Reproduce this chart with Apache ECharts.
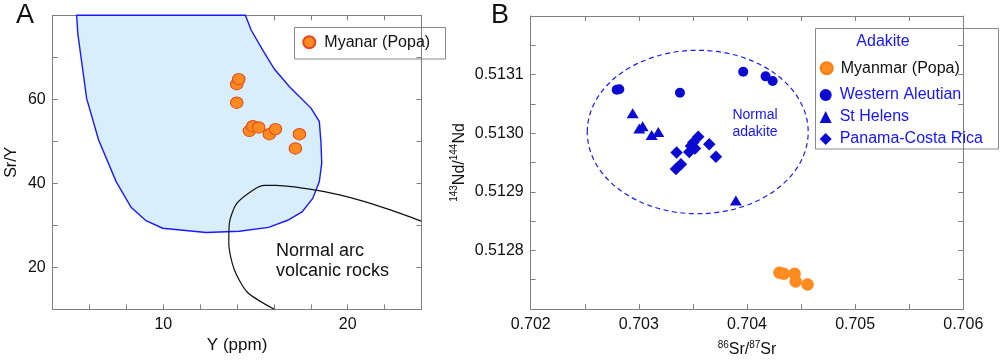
<!DOCTYPE html>
<html>
<head>
<meta charset="utf-8">
<script src="https://cdn.jsdelivr.net/npm/echarts@6/dist/echarts.min.js"></script>
<style>
html,body{margin:0;padding:0;background:#fff;}
#chart{width:1000px;height:363px;}
</style>
</head>
<body>
<div id="chart"></div>
<script>
// ---------- Panel A data (Y ppm vs Sr/Y) ----------
const adakiteOutline = [[5.30,80],[14.45,80],[14.76,76.5],[15.39,71.7],[16.02,67.2],[16.84,63.0],[18.01,57.9],[18.46,54.7],[18.55,49.5],[18.59,44.8],[18.46,40.4],[18.10,36.4],[17.52,33.2],[16.74,31.2],[15.71,29.5],[14.12,28.6],[12.32,28.3],[9.96,29.3],[9.06,31.1],[8.25,34.3],[7.44,40.4],[6.49,50.3],[5.84,60.2],[5.36,75.7]];
const normalArcCurve = [[16.02,10],[14.57,14.0],[13.85,19.4],[13.55,25.7],[13.58,30.5],[13.98,35.2],[14.94,38.6],[15.48,39.5],[16.11,39.5],[18.73,38.0],[20.63,36.0],[22.35,33.6],[23.98,31.0]];
const myanarA = [[13.98,63.6],[14.09,64.8],[13.98,59.2],[14.67,52.5],[14.85,53.6],[15.17,53.3],[15.75,51.7],[16.08,52.9],[17.38,51.7],[17.16,48.3]];
const axisAX = {min:4, max:24, interval:2, labels:[10,20]};
const axisAY = {min:10, max:80, interval:10, labels:[20,40,60]};

// ---------- Panel B data (87Sr/86Sr vs 143Nd/144Nd) ----------
const myanmarB = [[0.70430,0.512762],[0.70434,0.512760],[0.70444,0.512760],[0.70445,0.512747],[0.70456,0.512742]];
const westernAleutian = [[0.702795,0.513074],[0.702819,0.513075],[0.70338,0.513069],[0.703965,0.513105],[0.704172,0.513097],[0.704237,0.513089]];
const stHelens = [[0.702943,0.513034],[0.703004,0.513008],[0.703035,0.513012],[0.703118,0.512997],[0.703180,0.513002],[0.703897,0.512885]];
const panamaCostaRica = [[0.703349,0.512967],[0.703343,0.512939],[0.703389,0.512947],[0.703466,0.512968],[0.703482,0.512978],[0.703519,0.512974],[0.703549,0.512994],[0.703503,0.512984],[0.703651,0.512981],[0.703713,0.512960]];
const normalAdakiteCenter = [0.7035444, 0.5130020];
const normalAdakiteRadii = [0.0010213, 0.00013947];
const axisBX = {min:0.702, max:0.706, interval:0.0005, labels:[0.702,0.703,0.704,0.705,0.706]};
const axisBY = {min:0.5127, max:0.5132, interval:0.00005, labels:[0.5128,0.5129,0.5130,0.5131]};

const FONT = '"Liberation Sans", Arial, Helvetica, sans-serif';
const BLUE_TXT = '#1414ff';
const BLUE_MK = '#0a0ad2';
const AX_COL = '#808080';

function near(v, list, eps){ return list.some(l => Math.abs(l - v) < eps); }

function makeAxis(cfg, opts){
  return Object.assign({
    type:'value', min:cfg.min, max:cfg.max, interval:cfg.interval,
    splitLine:{show:false},
    axisLine:{show:true, onZero:false, lineStyle:{color:AX_COL, width:1}},
    axisTick:{show:true, inside:true, length:5, lineStyle:{color:AX_COL}},
    axisLabel:{show:false}
  }, opts);
}

const chart = echarts.init(document.getElementById('chart'), null, {renderer:'canvas'});

const option = {
  backgroundColor:'#fff',
  animation:false,
  textStyle:{fontFamily:FONT},
  grid:[
    {left:52.7, top:15.3, width:368.8, height:294, containLabel:false},
    {left:530.7, top:16, width:432.6, height:294.5, containLabel:false}
  ],
  xAxis:[
    makeAxis(axisAX, {gridIndex:0, position:'bottom',
      name:'Y (ppm)', nameLocation:'middle', nameGap:19,
      nameTextStyle:{fontSize:17, color:'#111', fontFamily:FONT},
      axisLabel:{show:true, fontSize:16, color:'#111', margin:7, fontFamily:FONT,
        formatter:v => near(v, axisAX.labels, 1e-6) ? String(v) : ''}}),
    makeAxis(axisAX, {gridIndex:0, position:'top'}),
    makeAxis(axisBX, {gridIndex:1, position:'bottom',
      name:'{sup|86}{n|Sr/}{sup|87}{n|Sr}', nameLocation:'middle', nameGap:31,
      nameTextStyle:{fontSize:16, color:'#111', fontFamily:FONT,
        rich:{n:{fontSize:16, lineHeight:20, color:'#111', fontFamily:FONT},
              sup:{fontSize:10, lineHeight:10, verticalAlign:'top', color:'#111', fontFamily:FONT}}},
      axisLabel:{show:true, fontSize:16, color:'#111', margin:8, fontFamily:FONT,
        formatter:v => near(v, axisBX.labels, 1e-7) ? v.toFixed(3) : ''}}),
    makeAxis(axisBX, {gridIndex:1, position:'top'})
  ],
  yAxis:[
    makeAxis(axisAY, {gridIndex:0, position:'left',
      name:'Sr/Y', nameLocation:'middle', nameGap:33,
      nameTextStyle:{fontSize:16, color:'#111', fontFamily:FONT},
      axisLabel:{show:true, fontSize:16, color:'#111', margin:7, fontFamily:FONT,
        formatter:v => near(v, axisAY.labels, 1e-6) ? String(v) : ''}}),
    makeAxis(axisAY, {gridIndex:0, position:'right'}),
    makeAxis(axisBY, {gridIndex:1, position:'left',
      name:'{sup|143}{n|Nd/}{sup|144}{n|Nd}', nameLocation:'middle', nameGap:61,
      nameTextStyle:{fontSize:16, color:'#111', fontFamily:FONT,
        rich:{n:{fontSize:16, lineHeight:20, color:'#111', fontFamily:FONT},
              sup:{fontSize:10, lineHeight:10, verticalAlign:'top', color:'#111', fontFamily:FONT}}},
      axisLabel:{show:true, fontSize:16, color:'#111', margin:7, fontFamily:FONT,
        formatter:v => near(v, axisBY.labels, 1e-8) ? v.toFixed(4) : ''}}),
    makeAxis(axisBY, {gridIndex:1, position:'right'})
  ],
  legend:[
    {data:['Myanar (Popa)'], left:302.3, top:34.3, padding:0, itemWidth:12, itemHeight:12,
      selectedMode:false, textStyle:{fontSize:16, color:'#111', fontFamily:FONT, padding:[0,0,0,4]}},
    {data:['Myanmar (Popa)'], left:819.7, top:60.3, padding:0, itemWidth:12, itemHeight:12,
      selectedMode:false, textStyle:{fontSize:16, color:'#111', fontFamily:FONT, padding:[0,0,0,3]}},
    {data:[{name:'Western Aleutian'},{name:'St Helens'},{name:'Panama-Costa Rica'}],
      orient:'vertical', left:819.7, top:87, padding:0, itemGap:6, itemWidth:12, itemHeight:12,
      selectedMode:false, textStyle:{fontSize:16, color:BLUE_TXT, fontFamily:FONT, padding:[0,0,0,3]}}
  ],
  graphic:[
    {type:'text', left:16, top:2, style:{text:'A', fill:'#111', font:'27px '+FONT}},
    {type:'text', left:491, top:2, style:{text:'B', fill:'#111', font:'27px '+FONT}},
    {type:'text', left:118, top:87, style:{text:'Adakite', fill:BLUE_TXT, font:'18px '+FONT}},
    {type:'text', left:276, top:242, style:{text:'Normal arc', fill:'#111', font:'18px '+FONT}},
    {type:'text', left:276, top:262, style:{text:'volcanic rocks', fill:'#111', font:'18px '+FONT}},
    {type:'text', x:755, y:115, style:{text:'Normal', fill:BLUE_TXT, font:'14px '+FONT, textAlign:'center', textVerticalAlign:'middle'}},
    {type:'text', x:755, y:132.5, style:{text:'adakite', fill:BLUE_TXT, font:'14px '+FONT, textAlign:'center', textVerticalAlign:'middle'}},
    {type:'rect', shape:{x:294.5, y:27.5, width:151, height:31.5}, style:{fill:'none', stroke:'#8a8a8a', lineWidth:1}, z:-1},
    {type:'rect', shape:{x:815.5, y:28.5, width:183, height:120.5}, style:{fill:'none', stroke:'#8a8a8a', lineWidth:1}, z:-1},
    {type:'text', x:883, y:42, style:{text:'Adakite', fill:BLUE_TXT, font:'16px '+FONT, textAlign:'center', textVerticalAlign:'middle'}}
  ],
  series:[
    {type:'custom', name:'adakite field', coordinateSystem:'cartesian2d', xAxisIndex:0, yAxisIndex:0, data:[0], z:1, silent:true,
      renderItem:(params, api) => ({
        type:'polygon',
        shape:{points: adakiteOutline.map(p => api.coord(p))},
        style:{fill:'#d9eefb', stroke:'#1a1aff', lineWidth:1.4}
      })},
    {type:'line', name:'normal arc', xAxisIndex:0, yAxisIndex:0, data:normalArcCurve, z:2,
      symbol:'none', smooth:0.25, lineStyle:{color:'#111', width:1.2}, silent:true},
    {type:'scatter', name:'Myanar (Popa)', xAxisIndex:0, yAxisIndex:0, data:myanarA, z:3,
      symbol:'circle', symbolSize:[12.5,11.5],
      itemStyle:{color:'#ff8a22', borderColor:'#e2481a', borderWidth:1, opacity:1}},
    {type:'custom', name:'normal adakite', coordinateSystem:'cartesian2d', xAxisIndex:2, yAxisIndex:2, data:[0], z:1, silent:true,
      renderItem:(params, api) => {
        const c = api.coord(normalAdakiteCenter);
        const s = api.size(normalAdakiteRadii, normalAdakiteCenter);
        return {type:'ellipse', shape:{cx:c[0], cy:c[1], rx:s[0], ry:s[1]},
          style:{fill:'none', stroke:'#1a1aff', lineWidth:1.2, lineDash:[5,3.5]}};
      }},
    {type:'scatter', name:'Myanmar (Popa)', xAxisIndex:2, yAxisIndex:2, data:myanmarB, z:3,
      symbol:'circle', symbolSize:12, itemStyle:{color:'#ff8c1e', borderColor:'#f5801a', borderWidth:0.5, opacity:1}},
    {type:'scatter', name:'Western Aleutian', xAxisIndex:2, yAxisIndex:2, data:westernAleutian, z:3,
      symbol:'circle', symbolSize:10, itemStyle:{color:BLUE_MK, opacity:1}},
    {type:'scatter', name:'St Helens', xAxisIndex:2, yAxisIndex:2, data:stHelens, z:3,
      symbol:'triangle', symbolSize:[12,10], itemStyle:{color:BLUE_MK, opacity:1}},
    {type:'scatter', name:'Panama-Costa Rica', xAxisIndex:2, yAxisIndex:2, data:panamaCostaRica, z:3,
      symbol:'diamond', symbolSize:12.5, itemStyle:{color:BLUE_MK, opacity:1}}
  ]
};
chart.setOption(option);
</script>
</body>
</html>
